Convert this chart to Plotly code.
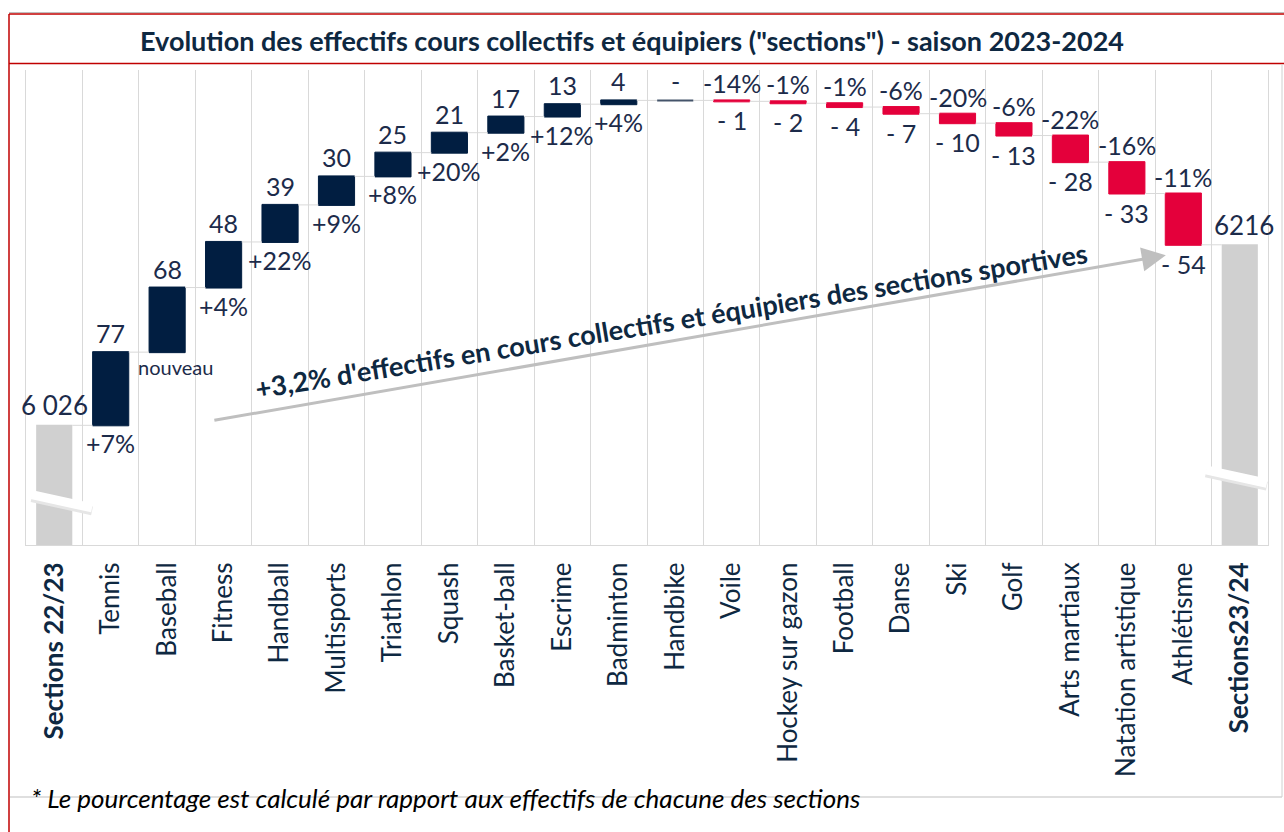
import plotly.graph_objects as go

# ---------------- data ----------------
categories = ["Sections 22/23", "Tennis", "Baseball", "Fitness", "Handball", "Multisports",
              "Triathlon", "Squash", "Basket-ball", "Escrime", "Badminton", "Handbike",
              "Voile", "Hockey sur gazon", "Football", "Danse", "Ski", "Golf",
              "Arts martiaux", "Natation artistique", "Athlétisme", "Sections23/24"]
start_value = 6026
deltas = [77, 68, 48, 39, 30, 25, 21, 17, 13, 4, 0, -1, -2, -4, -7, -10, -13, -28, -33, -54]
pct_labels = ["+7%", "nouveau", "+4%", "+22%", "+9%", "+8%", "+20%", "+2%", "+12%", "+4%",
              "-", "-14%", "-1%", "-1%", "-6%", "-20%", "-6%", "-22%", "-16%", "-11%"]
end_value = 6216
start_label = "6 026"
end_label = "6216"
title_text = 'Evolution des effectifs cours collectifs et équipiers ("sections") - saison 2023-2024'
trend_text = "+3,2% d'effectifs en cours collectifs et équipiers des sections sportives"
footnote = "* Le pourcentage est calculé par rapport aux effectifs de chacune des sections"

# ---------------- style ----------------
NAVY = "#011E41"
RED = "#E4003B"
GRAY = "#D0D0D0"
GRID = "#D9D9D9"
TXT = "#1C2B4A"
FONT = "Lato, 'Open Sans', sans-serif"

W, H = 1284, 832
L, R, T, B = 26, 1268, 70, 545


def px_x(p):
    return (p - L) / (R - L)


def px_y(p):
    return (B - p) / (B - T)


measures = ["absolute"] + ["relative"] * len(deltas) + ["total"]
yvals = [start_value] + deltas + [0]

fig = go.Figure()
fig.add_trace(go.Waterfall(
    x=categories, y=yvals, measure=measures,
    increasing=dict(marker=dict(color=NAVY, line=dict(color=NAVY, width=1))),
    decreasing=dict(marker=dict(color=RED, line=dict(color=RED, width=1))),
    totals=dict(marker=dict(color=GRAY, line=dict(color=GRAY, width=0))),
    connector=dict(line=dict(color=GRID, width=1)),
    textinfo="none", hoverinfo="skip", showlegend=False,
))

annotations = []
shapes = []
NUM = 25
# start / end labels
annotations.append(dict(x=categories[0], y=start_value, text=start_label, showarrow=False,
                        yanchor="bottom", yshift=2, font=dict(size=26, color=TXT, family=FONT)))
annotations.append(dict(x=categories[-1], y=end_value, text=end_label, showarrow=False,
                        yanchor="bottom", yshift=2, xshift=4, font=dict(size=26, color=TXT, family=FONT)))

cum = start_value
for i, d in enumerate(deltas):
    cat = categories[i + 1]
    prev, cur = cum, cum + d
    cum = cur
    top, bot = max(prev, cur), min(prev, cur)
    pct = pct_labels[i]
    if d > 0:
        annotations.append(dict(x=cat, y=top, text=str(d), showarrow=False, yanchor="bottom",
                                yshift=2, font=dict(size=NUM, color=TXT, family=FONT)))
        fs = 20 if pct == "nouveau" else NUM
        annotations.append(dict(x=cat, y=bot, text=pct, showarrow=False, yanchor="top",
                                xshift=8 if pct == "nouveau" else 0,
                                yshift=-1, font=dict(size=fs, color=TXT, family=FONT)))
    elif d < 0:
        annotations.append(dict(x=cat, y=top, text=pct, showarrow=False, yanchor="bottom",
                                yshift=0, font=dict(size=NUM, color=TXT, family=FONT)))
        annotations.append(dict(x=cat, y=bot, text="- " + str(-d), showarrow=False, yanchor="top",
                                yshift=-2, font=dict(size=NUM, color=TXT, family=FONT)))
    else:
        annotations.append(dict(x=cat, y=top, text=pct, showarrow=False, yanchor="bottom",
                                yshift=2, font=dict(size=NUM, color=TXT, family=FONT)))
        # zero-height bar drawn as an outline at its level
        shapes.append(dict(type="line", xref="x", yref="y", x0=i + 1 - 0.32, x1=i + 1 + 0.32,
                           y0=top, y1=top, line=dict(color="#44546A", width=2)))

# title
annotations.append(dict(xref="paper", yref="paper", x=px_x(632), y=px_y(40), text="<b>" + title_text + "</b>",
                        showarrow=False, xanchor="center", yanchor="middle",
                        font=dict(size=27, color="#0E2841", family=FONT)))
# trend arrow
annotations.append(dict(xref="x", yref="y", axref="x", ayref="y",
                        x=19.69, y=6205, ax=2.81, ay=6031, text="", showarrow=True,
                        arrowhead=2, arrowsize=1.6, arrowwidth=3, arrowcolor="#BFBFBF"))
# trend text
annotations.append(dict(xref="paper", yref="paper", x=px_x(671), y=px_y(320), text="<b>" + trend_text + "</b>",
                        showarrow=False, textangle=-9.3, xanchor="center", yanchor="middle",
                        font=dict(size=27, color="#0E2841", family=FONT)))
# footnote
annotations.append(dict(xref="paper", yref="paper", x=px_x(29), y=px_y(798), text="<i>" + footnote + "</i>",
                        showarrow=False, xanchor="left", yanchor="middle",
                        font=dict(size=26, color="#000000", family=FONT)))

# frame lines
shapes.append(dict(type="line", xref="paper", yref="paper", x0=px_x(9), x1=px_x(1290),
                   y0=px_y(12.5), y1=px_y(12.5), line=dict(color="#BFBFBF", width=1)))
shapes.append(dict(type="line", xref="paper", yref="paper", x0=px_x(9), x1=px_x(1290),
                   y0=px_y(14), y1=px_y(14), line=dict(color="#C00000", width=1.5)))
shapes.append(dict(type="line", xref="paper", yref="paper", x0=px_x(9), x1=px_x(1290),
                   y0=px_y(63.5), y1=px_y(63.5), line=dict(color="#C00000", width=1.5)))
shapes.append(dict(type="line", xref="paper", yref="paper", x0=px_x(9), x1=px_x(9),
                   y0=px_y(14), y1=px_y(840), line=dict(color="#C00000", width=1.5)))
shapes.append(dict(type="line", xref="paper", yref="paper", x0=px_x(10), x1=px_x(1282),
                   y0=px_y(797), y1=px_y(797), line=dict(color="#BFBFBF", width=1)))
shapes.append(dict(type="line", xref="paper", yref="paper", x0=px_x(1282), x1=px_x(1282),
                   y0=px_y(64), y1=px_y(797), line=dict(color="#D0D0D0", width=1)))
# axis break marks (shadow + white band)
for (x0, y0, x1, y1) in [(-0.40, 5953, 0.67, 5939), (20.40, 5979, 21.48, 5965)]:
    shapes.append(dict(type="line", xref="x", yref="y", x0=x0, y0=y0 - 3, x1=x1, y1=y1 - 3,
                       line=dict(color="#E6E6E6", width=9)))
    shapes.append(dict(type="line", xref="x", yref="y", x0=x0, y0=y0, x1=x1, y1=y1,
                       line=dict(color="#FFFFFF", width=9)))

ticktext = ["<b>" + categories[0] + "</b>"] + categories[1:-1] + ["<b>" + categories[-1] + "</b>"]

fig.update_layout(
    width=W, height=H,
    margin=dict(l=L, r=W - R, t=T, b=H - B),
    paper_bgcolor="white", plot_bgcolor="white",
    waterfallgap=0.36,
    annotations=annotations, shapes=shapes,
    xaxis=dict(type="category", tickmode="array", tickvals=categories, ticktext=ticktext,
               range=[-0.5, len(categories) - 0.5], autorange=False,
               tickangle=-90, tickson="boundaries", showgrid=True, gridcolor=GRID, gridwidth=1,
               showline=True, linecolor=GRID, linewidth=1, ticks="", ticklabelstandoff=6,
               tickfont=dict(size=26, color="#0E2841", family=FONT), fixedrange=True),
    yaxis=dict(range=[5900, 6400], showticklabels=False, showgrid=False, zeroline=False,
               showline=True, mirror=True, linecolor=GRID, linewidth=1, fixedrange=True),
)

fig.write_html("out.html", config={"displayModeBar": False},
               post_script="document.body.style.margin='0';document.body.style.overflow='hidden';")
